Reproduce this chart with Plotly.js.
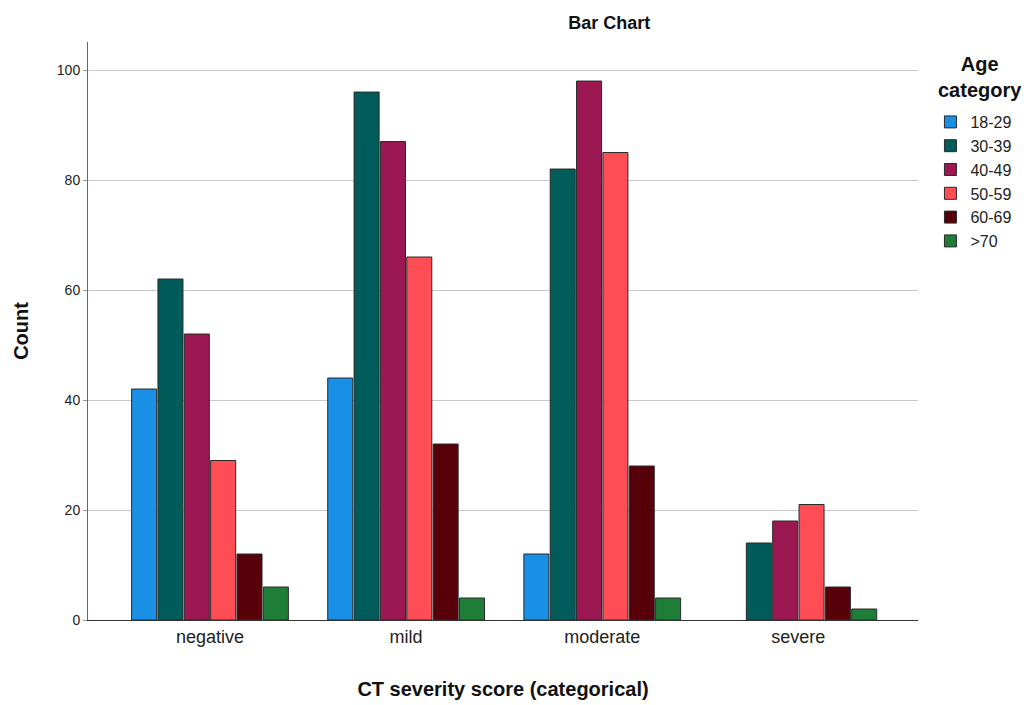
<!DOCTYPE html>
<html>
<head>
<meta charset="utf-8">
<script src="https://cdn.plot.ly/plotly-3.0.1.min.js"></script>
<style>html,body{margin:0;padding:0;background:#fff;}#chart{width:1029px;height:705px;}</style>
</head>
<body>
<div id="chart"></div>
<script>
const categories = ["negative", "mild", "moderate", "severe"];
const seriesNames = ["18-29", "30-39", "40-49", "50-59", "60-69", ">70"];
const age18_29 = [42, 44, 12, 0];
const age30_39 = [62, 96, 82, 14];
const age40_49 = [52, 87, 98, 18];
const age50_59 = [29, 66, 85, 21];
const age60_69 = [12, 32, 28, 6];
const age70plus = [6, 4, 4, 2];
const yTicks = [0, 20, 40, 60, 80, 100];

const seriesValues = [age18_29, age30_39, age40_49, age50_59, age60_69, age70plus];
const colors = ["#1a8fe6", "#005b5b", "#9c1852", "#ff4d55", "#570009", "#1e7e37"];

const traces = seriesValues.map((vals, i) => ({
  type: "bar",
  name: seriesNames[i],
  x: categories,
  y: vals,
  marker: {color: colors[i], line: {color: "#2a2a2a", width: vals.map(v => v === 0 ? 0 : 1)}},
  hoverinfo: "x+y+name"
}));

const layout = {
  width: 1029, height: 705,
  margin: {l: 88, r: 111, t: 42, b: 85, autoexpand: false},
  paper_bgcolor: "#fff", plot_bgcolor: "#fff",
  font: {family: "Liberation Sans, Arial, sans-serif", color: "#222"},
  title: {text: "<b>Bar Chart</b>", x: 0.592, xanchor: "center", y: 0.968, yanchor: "middle", font: {size: 18, color: "#111"}},
  barmode: "group",
  bargap: 0.194,
  bargroupgap: 0.05,
  xaxis: {
    range: [-0.622, 3.61],
    showline: true, linecolor: "#333", linewidth: 1,
    ticks: "", showgrid: false,
    tickfont: {size: 18, color: "#222"},
    automargin: false,
    title: {text: "<b>CT severity score (categorical)</b>", font: {size: 20, color: "#111"}, standoff: 36}
  },
  yaxis: {
    range: [0, 105.1],
    tickvals: yTicks,
    showline: true, linecolor: "#666", linewidth: 1,
    ticks: "outside", ticklen: 4, tickcolor: "#999",
    showgrid: true, gridcolor: "#c8c8c8", gridwidth: 1,
    zeroline: false,
    automargin: false,
    tickfont: {size: 14, color: "#222"},
    title: {text: "<b>Count</b>", font: {size: 20, color: "#111"}, standoff: 22}
  },
  legend: {
    x: 1.015, xanchor: "left", y: 0.891, yanchor: "top",
    font: {size: 16, color: "#222"},
    tracegroupgap: 0,
    itemwidth: 30
  },
  annotations: [{
    text: "<b>Age<br>category</b>",
    xref: "paper", yref: "paper",
    x: 1.0747, y: 0.939, xanchor: "center", yanchor: "middle",
    showarrow: false, align: "center",
    font: {size: 20, color: "#111"}
  }],
  showlegend: true
};

Plotly.newPlot("chart", traces, layout, {displayModeBar: false, responsive: false});
</script>
</body>
</html>
